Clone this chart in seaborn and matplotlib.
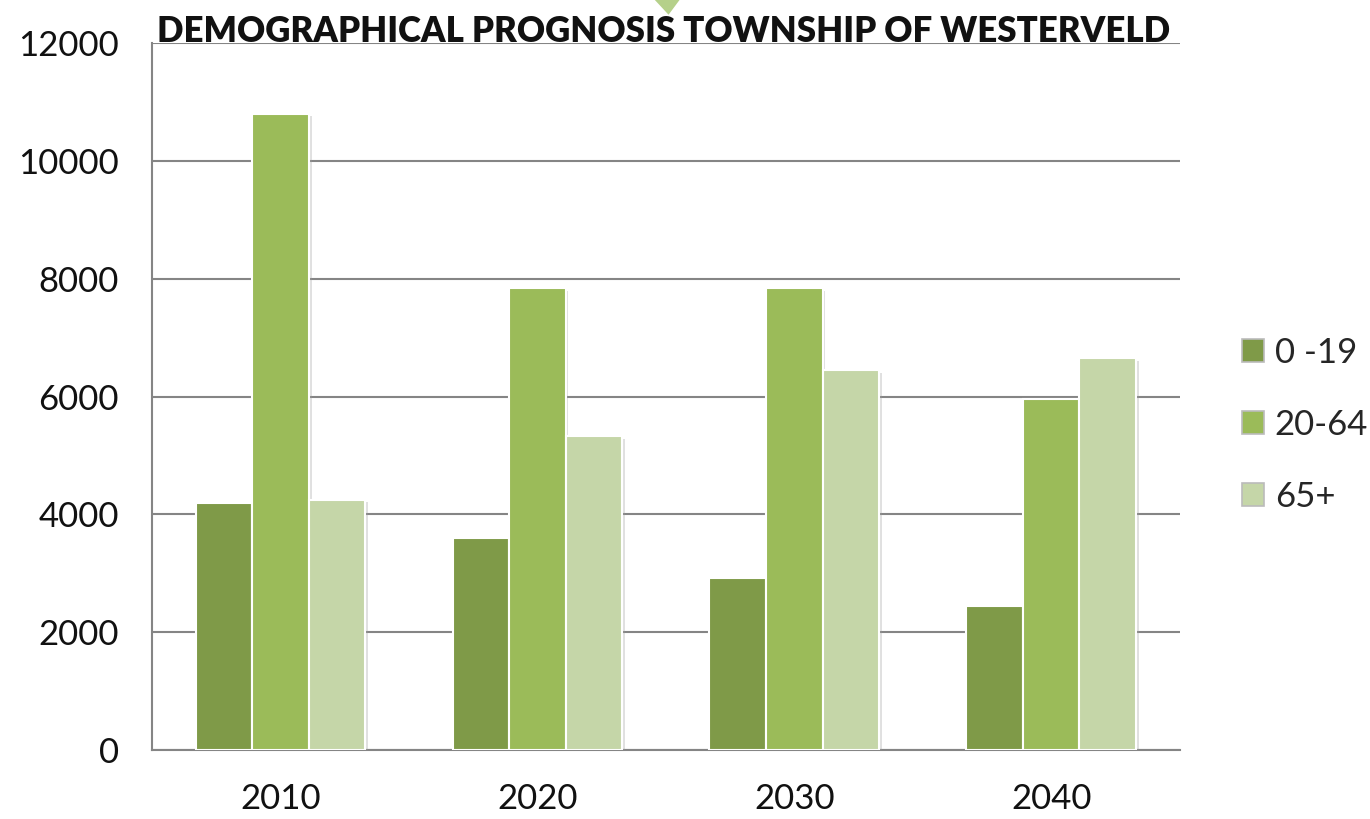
import pandas as pd
import seaborn as sns
import matplotlib.pyplot as plt
import matplotlib.patheffects as pe
from matplotlib.patches import Polygon

# data
years = ["2010", "2020", "2030", "2040"]
age_groups = ["0 -19", "20-64", "65+"]
young = [4200, 3600, 2920, 2440]
working = [10800, 7840, 7840, 5960]
elderly = [4250, 5330, 6450, 6650]
y_ticks = [0, 2000, 4000, 6000, 8000, 10000, 12000]

df = pd.DataFrame({"year": years * 3,
                   "group": [g for g in age_groups for _ in years],
                   "value": young + working + elderly})

colors = ["#7F9A48", "#9BBB59", "#C5D6A8"]

sns.set_style("white")
plt.rcParams['font.family'] = ['Lato', 'DejaVu Sans']

fig = plt.figure(figsize=(13.7, 8.19), dpi=100)
ax = fig.add_axes([0.111, 0.0842, 0.75, 0.8633])

sns.barplot(data=df, x="year", y="value", hue="group", palette=colors,
            saturation=1, width=0.66, edgecolor="white", linewidth=1.5,
            ax=ax, zorder=3)
for bar in ax.patches:
    bar.set_path_effects([pe.SimplePatchShadow(offset=(2, -2), shadow_rgbFace="#999999", alpha=0.3),
                          pe.Normal()])

ax.set_ylim(0, 12000)
ax.set_yticks(y_ticks)
ax.set_yticklabels([str(t) for t in y_ticks], fontsize=25, color="#111111")
ax.tick_params(axis="x", labelsize=25, colors="#111111", length=0, pad=24)
ax.tick_params(axis="y", length=0, pad=24)
ax.yaxis.grid(True, color="#858585", linewidth=1.5, zorder=0)
ax.set_axisbelow(True)
ax.set_xlabel("")
ax.set_ylabel("")
for s in ["top", "right"]:
    ax.spines[s].set_visible(False)
for s in ["left", "bottom"]:
    ax.spines[s].set_color("#858585")
    ax.spines[s].set_linewidth(1.5)

leg = ax.legend(loc="center left", bbox_to_anchor=(1.047, 0.46), frameon=False,
                fontsize=25, handlelength=0.65, handleheight=0.65,
                handletextpad=0.3, labelspacing=1.15, borderaxespad=0)
for h in leg.legend_handles:
    h.set_edgecolor("#BBBBBB")
    h.set_linewidth(1.2)
    h.set_path_effects([])

fig.text(0.484, 0.942, "DEMOGRAPHICAL PROGNOSIS TOWNSHIP OF WESTERVELD",
         ha="center", va="bottom", fontsize=25, fontweight="heavy",
         family=["Lato", "DejaVu Sans"], color="#111111")

# small green marker at the top edge
fig.patches.append(Polygon([[0.478, 1.0], [0.496, 1.0], [0.488, 0.982]],
                           closed=True, transform=fig.transFigure,
                           facecolor="#B5D08A", edgecolor="none"))

fig.savefig("out.png", dpi=100)
